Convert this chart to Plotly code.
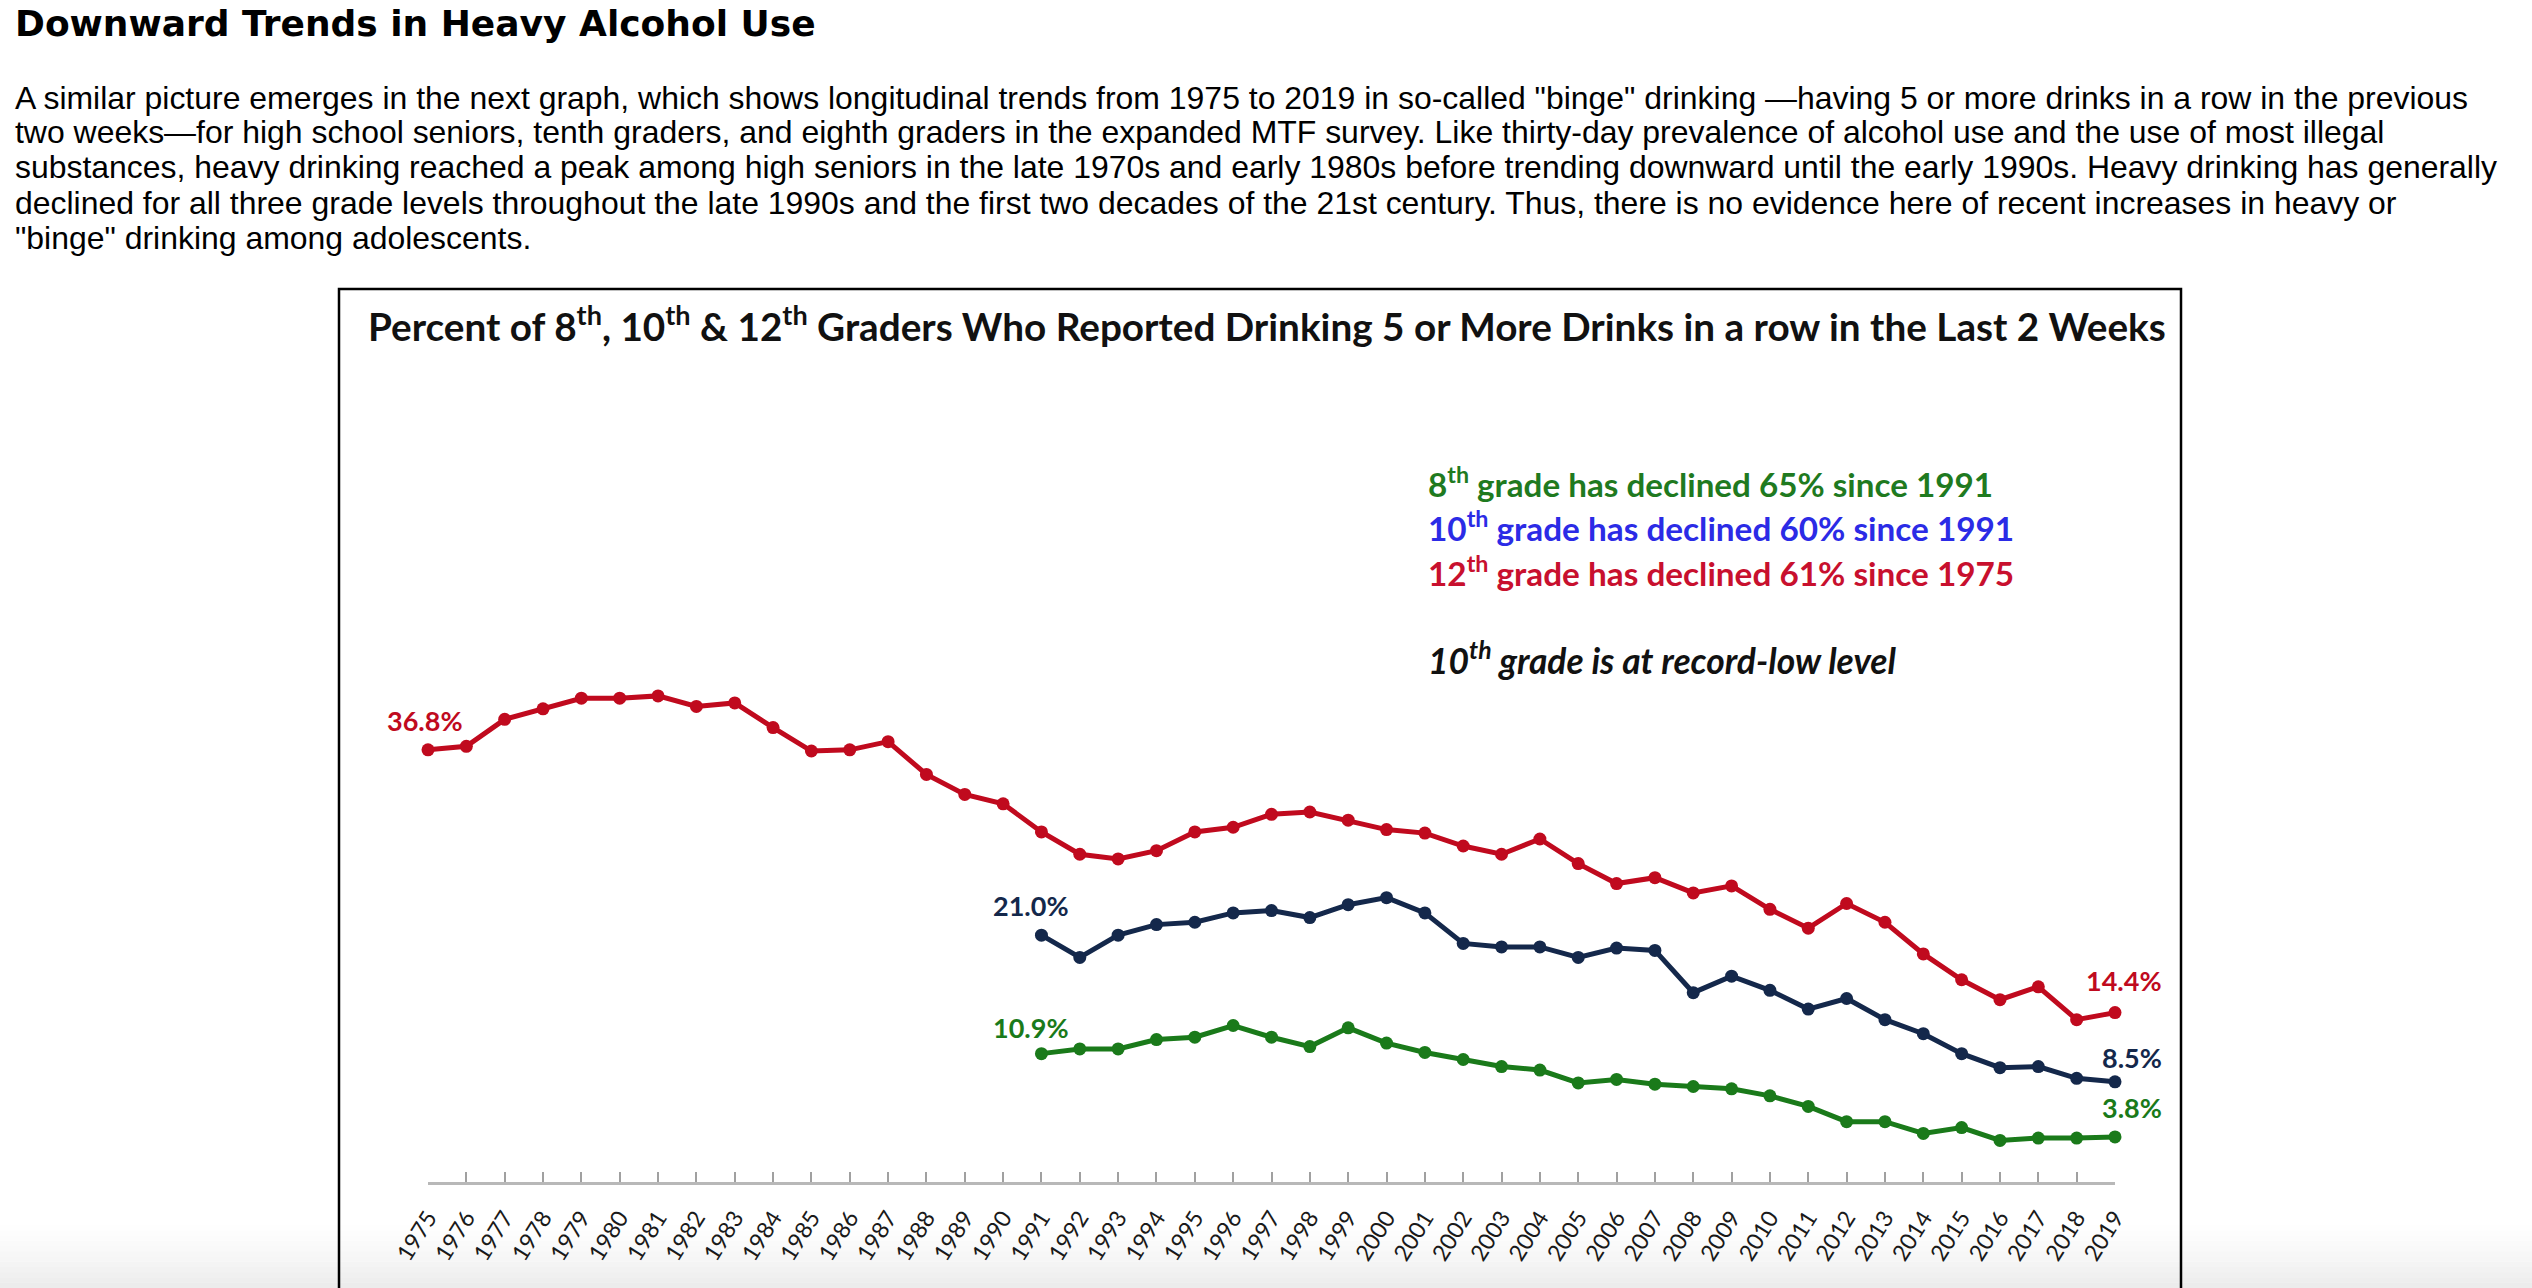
import plotly.graph_objects as go

W, H = 2532, 1288

years_12 = list(range(1975, 2020))
years_8_10 = list(range(1991, 2020))
grade12 = [36.8, 37.1, 39.4, 40.3, 41.2, 41.2, 41.4, 40.5, 40.8, 38.7, 36.7, 36.8, 37.5, 34.7, 33.0,
           32.2, 29.8, 27.9, 27.5, 28.2, 29.8, 30.2, 31.3, 31.5, 30.8, 30.0, 29.7, 28.6, 27.9, 29.2,
           27.1, 25.4, 25.9, 24.6, 25.2, 23.2, 21.6, 23.7, 22.1, 19.4, 17.2, 15.5, 16.6, 13.8, 14.4]
grade10 = [21.0, 19.1, 21.0, 21.9, 22.1, 22.9, 23.1, 22.5, 23.6, 24.2, 22.9, 20.3, 20.0, 20.0, 19.1,
           19.9, 19.7, 16.1, 17.5, 16.3, 14.7, 15.6, 13.8, 12.6, 10.9, 9.7, 9.8, 8.8, 8.5]
grade8 = [10.9, 11.3, 11.3, 12.1, 12.3, 13.3, 12.3, 11.5, 13.1, 11.8, 11.0, 10.4, 9.8, 9.5, 8.4,
          8.7, 8.3, 8.1, 7.9, 7.3, 6.4, 5.1, 5.1, 4.1, 4.6, 3.5, 3.7, 3.7, 3.8]
tick_labels = [str(y) for y in years_12]

RED = "#C00A1E"
NAVY = "#14284B"
GREEN = "#1A7A1A"

heading = "Downward Trends in Heavy Alcohol Use"
paragraph = [
    'A similar picture emerges in the next graph, which shows longitudinal trends from 1975 to 2019 in so-called "binge" drinking \u2014having 5 or more drinks in a row in the previous',
    'two weeks\u2014for high school seniors, tenth graders, and eighth graders in the expanded MTF survey. Like thirty-day prevalence of alcohol use and the use of most illegal',
    'substances, heavy drinking reached a peak among high seniors in the late 1970s and early 1980s before trending downward until the early 1990s. Heavy drinking has generally',
    'declined for all three grade levels throughout the late 1990s and the first two decades of the 21st century. Thus, there is no evidence here of recent increases in heavy or',
    '"binge" drinking among adolescents.',
]
chart_title = ("Percent of 8<sup>th</sup>, 10<sup>th</sup> &amp; 12<sup>th</sup> Graders Who Reported "
               "Drinking 5 or More Drinks in a row in the Last 2 Weeks")
notes = [
    ("8<sup>th</sup> grade has declined 65% since 1991", "#1F7A1F", False, 33.2),
    ("10<sup>th</sup> grade has declined 60% since 1991", "#2B2BE6", False, 33.3),
    ("12<sup>th</sup> grade has declined 61% since 1975", "#C8102E", False, 33.3),
    ("10<sup>th</sup> grade is at record-low level", "#111111", True, 35.4),
]


def px(x):
    return x / W


def py(y):
    return 1 - y / H


fig = go.Figure()
for xs, ys, col in [(years_12, grade12, RED), (years_8_10, grade10, NAVY), (years_8_10, grade8, GREEN)]:
    fig.add_trace(go.Scatter(x=xs, y=ys, mode="lines+markers", line=dict(color=col, width=5),
                             marker=dict(color=col, size=13), cliponaxis=False, showlegend=False,
                             hoverinfo="x+y"))

x0_px, x1_px = 428, 2115
y_top_px, y_bot_px = 650, 1181.5
px_per_pct = 11.73
ymax = (y_bot_px - y_top_px) / px_per_pct

fig.update_layout(
    width=W, height=H, margin=dict(l=0, r=0, t=0, b=0, autoexpand=False),
    paper_bgcolor="white", plot_bgcolor="white",
    xaxis=dict(domain=[px(x0_px), px(x1_px)], range=[1975, 2019], tickvals=years_12,
               ticktext=tick_labels, tickangle=-58, ticks="inside", ticklen=10, tickwidth=1.5,
               tickcolor="#a0a0a0", showline=True, linecolor="#b8b8b8", linewidth=2.5,
               showgrid=False, zeroline=False, ticklabelstandoff=11, automargin=False,
               tickfont=dict(family="Lato", size=23, color="#1a1a1a")),
    yaxis=dict(domain=[py(y_bot_px), py(y_top_px)], range=[0, ymax], visible=False, automargin=False),
)

ann = []
ann.append(dict(x=px(13), y=py(23), xref="paper", yref="paper", xanchor="left", yanchor="middle",
                text="<b>" + heading + "</b>", showarrow=False,
                font=dict(family="DejaVu Sans", size=36, color="#000000")))
line_y = [98, 132, 167, 203, 238]
for txt, yy in zip(paragraph, line_y):
    ann.append(dict(x=px(13), y=py(yy), xref="paper", yref="paper", xanchor="left", yanchor="middle",
                    text=txt, showarrow=False,
                    font=dict(family="Liberation Sans", size=31.95, color="#000000")))
ann.append(dict(x=px(366), y=py(324), xref="paper", yref="paper", xanchor="left", yanchor="middle",
                text="<b>" + chart_title + "</b>", showarrow=False,
                font=dict(family="Lato", size=38.7, color="#111111")))
for (txt, col, ital, fs), yy in zip(notes, [482, 526, 571, 658]):
    t = "<b>" + txt + "</b>"
    if ital:
        t = "<i>" + t + "</i>"
    ann.append(dict(x=px(1426), y=py(yy), xref="paper", yref="paper", xanchor="left", yanchor="middle",
                    text=t, showarrow=False, font=dict(family="Lato", size=fs, color=col)))

lbl_font = dict(family="Lato", size=27)
ann.append(dict(x=years_12[0], y=grade12[0], text="<b>%.1f%%</b>" % grade12[0], showarrow=False,
                yshift=29, xshift=-3, font=dict(color=RED, **lbl_font)))
ann.append(dict(x=years_8_10[0], y=grade10[0], text="<b>%.1f%%</b>" % grade10[0], showarrow=False,
                yshift=30, xshift=-10, font=dict(color=NAVY, **lbl_font)))
ann.append(dict(x=years_8_10[0], y=grade8[0], text="<b>%.1f%%</b>" % grade8[0], showarrow=False,
                yshift=26, xshift=-10, font=dict(color=GREEN, **lbl_font)))
for ys, col, sh in [(grade12, RED, 32), (grade10, NAVY, 24), (grade8, GREEN, 29)]:
    ann.append(dict(x=years_12[-1], y=ys[-1], text="<b>%.1f%%</b>" % ys[-1], showarrow=False,
                    xanchor="right", xshift=49, yshift=sh, font=dict(color=col, **lbl_font)))
fig.update_layout(annotations=ann)

shapes = [dict(type="rect", xref="paper", yref="paper", x0=px(339), x1=px(2181), y0=py(1400), y1=py(289),
               line=dict(color="#000000", width=2.5), fillcolor="rgba(0,0,0,0)", layer="above")]
n = 12
g0, g1 = 1225, 1288
for i in range(n):
    ya = g0 + (g1 - g0) * i / n
    yb = g0 + (g1 - g0) * (i + 1) / n
    op = 0.075 * ((i + 1) / n) ** 1.3
    shapes.append(dict(type="rect", xref="paper", yref="paper", x0=0, x1=1, y0=py(yb), y1=py(ya),
                       line=dict(width=0), fillcolor="rgba(0,0,0,%.4f)" % op, layer="above"))
fig.update_layout(shapes=shapes)

fig.write_html("out.html", config={"displayModeBar": False},
               post_script="document.body.style.margin='0';document.body.style.overflow='hidden';")
